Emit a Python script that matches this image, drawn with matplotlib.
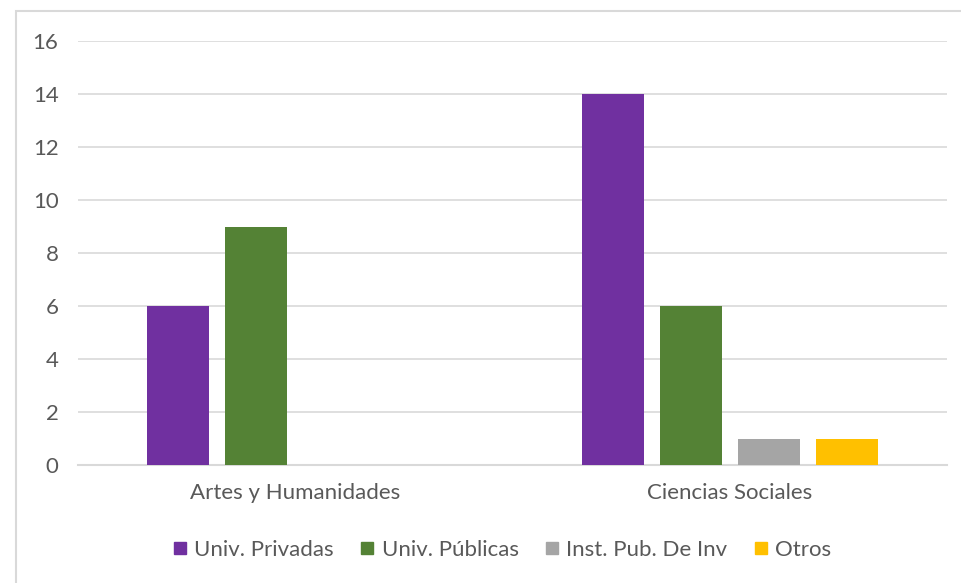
import numpy as np
import matplotlib.pyplot as plt
from matplotlib.lines import Line2D
from matplotlib.patches import Rectangle

categories = ["Artes y Humanidades", "Ciencias Sociales"]
series = ["Univ. Privadas", "Univ. Públicas", "Inst. Pub. De Inv", "Otros"]
values = [
    [6, 14],   # Univ. Privadas
    [9, 6],    # Univ. Públicas
    [0, 1],    # Inst. Pub. De Inv
    [0, 1],    # Otros
]
colors = ["#7030A0", "#548235", "#A5A5A5", "#FFC000"]
yticks = [0, 2, 4, 6, 8, 10, 12, 14, 16]

plt.rcParams['font.family'] = ['Lato', 'DejaVu Sans']
txt = "#595959"
grid = "#D9D9D9"

fig = plt.figure(figsize=(9.61, 5.83), dpi=100)
W, H = 961, 583
ax = fig.add_axes([78 / W, 118 / H, 869 / W, 424 / H])

# chart frame (only top and left visible in the crop)
fig.patches.append(Rectangle((16 / W, -0.1), 1.2, (583 - 11) / H + 0.1,
                             transform=fig.transFigure, fill=False,
                             edgecolor=grid, linewidth=1.5))

x = np.arange(len(categories))
step = 0.1795
width = 0.1427
for i, (name, vals) in enumerate(zip(series, values)):
    ax.bar(x + (i - 1.5) * step, vals, width, color=colors[i], label=name,
           zorder=3)

ax.set_xlim(-0.5, 1.5)
ax.set_ylim(0, 16)
ax.set_yticks(yticks)
ax.set_xticks(x)
ax.set_xticklabels(categories)
ax.yaxis.grid(True, color=grid, linewidth=1.2, zorder=0)
for s in ["top", "right", "left"]:
    ax.spines[s].set_visible(False)
ax.spines["bottom"].set_color(grid)
ax.spines["bottom"].set_linewidth(1.5)
ax.tick_params(axis="both", length=0, labelsize=16, colors=txt)
ax.tick_params(axis="y", pad=14)
ax.tick_params(axis="x", pad=13)

handles = [Line2D([], [], marker="s", linestyle="", markersize=9,
                  markerfacecolor=c, markeredgecolor=c) for c in colors]
fig.legend(handles, series, loc="center", bbox_to_anchor=(0.521, 1 - 550 / H),
           ncol=4, frameon=False, fontsize=16, labelcolor=txt,
           handletextpad=0.2, columnspacing=1.05, handlelength=0.9)

fig.savefig("out.png", dpi=100, facecolor="white")
